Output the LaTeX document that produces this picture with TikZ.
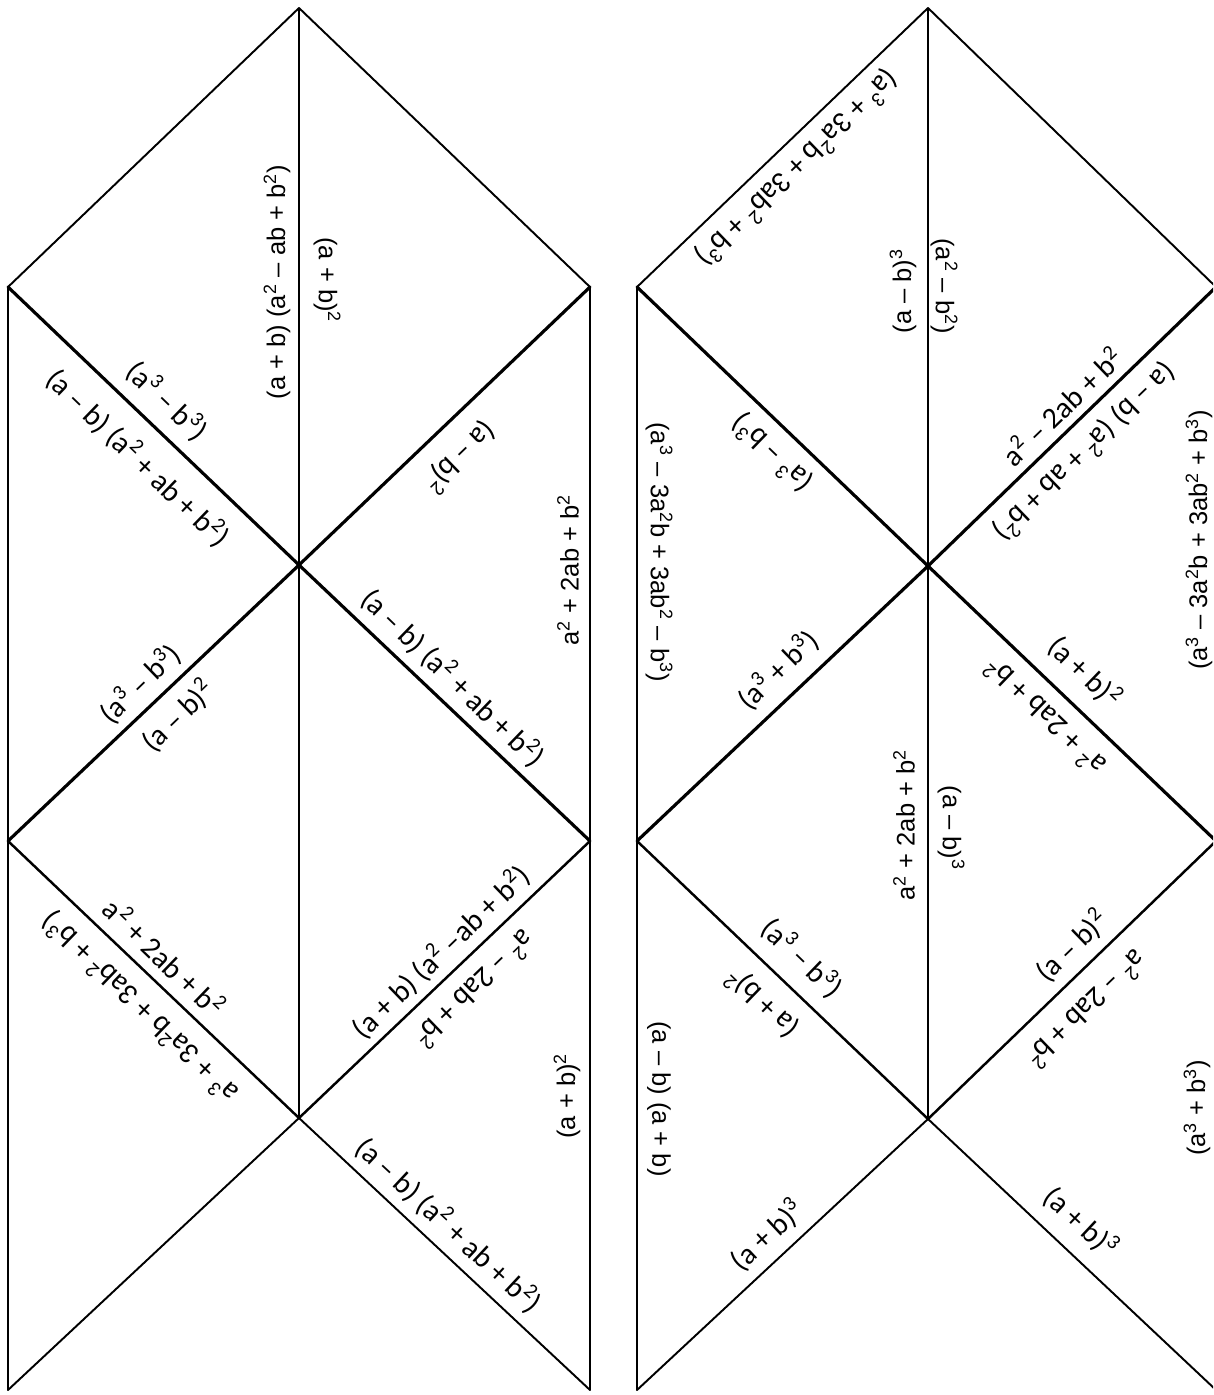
\documentclass[tikz,border=0pt]{standalone}
\usepackage{fontspec}
\setmainfont{Carlito}
\newfontfamily\vertfont{Liberation Sans}
\newcommand{\pw}[1]{\textsuperscript{#1}}
\tikzset{
  seam/.style={line width=1.1pt, black},
  midseam/.style={line width=1.4pt, black},
  boldseam/.style={line width=1.8pt, black},
  lbl/.style={font=\fontsize{17}{20}\selectfont, inner sep=0pt},
  vlbl/.style={font=\vertfont\fontsize{14.5}{17}\selectfont, inner sep=0pt}
}

\begin{document}
\begin{tikzpicture}[x=0.02cm, y=-0.02cm, line join=round, line cap=round]
  \useasboundingbox (0,0) rectangle (1213,1395);
  \clip (0,0) rectangle (1213,1395);

  % Corners of the left strip
  \coordinate (lT)  at (299,8);
  \coordinate (lL1) at (8,287);    \coordinate (lR1) at (590,287);
  \coordinate (lC1) at (299,565);
  \coordinate (lL2) at (8,841);    \coordinate (lR2) at (590,841);
  \coordinate (lC2) at (299,1118);
  \coordinate (lLb) at (8,1390);   \coordinate (lRb) at (590,1390);

  % Corners of the right strip
  \coordinate (rT)  at (928,8);
  \coordinate (rL1) at (637,287);  \coordinate (rR1) at (1216,287);
  \coordinate (rC1) at (928,566);
  \coordinate (rL2) at (637,841);  \coordinate (rR2) at (1216,841);
  \coordinate (rC2) at (928,1119);
  \coordinate (rLb) at (637,1390); \coordinate (rRb) at (1216,1390);

  % Lines left strip
  \draw[seam] (lL1) -- (lT) -- (lR1);
  \draw[seam] (lT) -- (lC2);
  \draw[seam] (lL1) -- (lLb);
  \draw[seam] (lR1) -- (lRb);
  \draw[boldseam] (lL1) -- (lC1) -- (lR2);
  \draw[boldseam] (lR1) -- (lC1) -- (lL2);
  \draw[midseam] (lL2) -- (lC2) -- (lR2);
  \draw[seam] (lLb) -- (lC2) -- (lRb);

  % Lines right strip
  \draw[seam] (rL1) -- (rT) -- (rR1);
  \draw[seam] (rT) -- (rC2);
  \draw[seam] (rL1) -- (rLb);
  \draw[seam] (rR1) -- (rRb);
  \draw[boldseam] (rL1) -- (rC1) -- (rR2);
  \draw[boldseam] (rR1) -- (rC1) -- (rL2);
  \draw[midseam] (rL2) -- (rC2) -- (rR2);
  \draw[seam] (rLb) -- (rC2) -- (rRb);

  % Labels left strip
  \node[vlbl, rotate=90]   (p1)  at (277,282)  {(a + b) (a\pw{2} – ab + b\pw{2})};
  \node[vlbl, rotate=-90]  (p2)  at (327,280)  {(a + b)\pw{2}};
  \node[lbl,  rotate=-44]  (p3)  at (167,401)  {(a\pw{3} – b\pw{3})};
  \node[lbl,  rotate=-44]  (p4)  at (138,458)  {(a – b) (a\pw{2} + ab + b\pw{2})};
  \node[lbl,  rotate=-136] (p5)  at (460,457)  {(a – b)\pw{2}};
  \node[vlbl, rotate=90]   (p6)  at (568,570)  {a\pw{2} + 2ab + b\pw{2}};
  \node[lbl,  rotate=44]   (p7)  at (140,684)  {(a\pw{3} – b\pw{3})};
  \node[lbl,  rotate=44]   (p8)  at (178,716)  {(a – b)\pw{2}};
  \node[lbl,  rotate=-44]  (p9)  at (453,678)  {(a – b) (a\pw{2} + ab + b\pw{2})};
  \node[lbl,  rotate=136]  (p10) at (140,1007) {a\pw{3} + 3a\pw{2}b + 3ab\pw{2} + b\pw{3})};
  \node[lbl,  rotate=-44]  (p11) at (165,957)  {a\pw{2} + 2ab + b\pw{2}};
  \node[lbl,  rotate=44]   (p12) at (441,952)  {(a + b) (a\pw{2} –ab + b\pw{2})};
  \node[lbl,  rotate=-136] (p13) at (475,990)  {a\pw{2} – 2ab + b\pw{2}};
  \node[vlbl, rotate=90]   (p14) at (567,1096) {(a + b)\pw{2}};
  \node[lbl,  rotate=-43]  (p15) at (449,1225) {(a – b) (a\pw{2} + ab + b\pw{2})};

  % Labels right strip
  \node[lbl,  rotate=-136] (q1)  at (797,168)  {(a\pw{3} + 3a\pw{2}b + 3ab\pw{2} + b\pw{3})};
  \node[vlbl, rotate=90]   (q2)  at (903,291)  {(a – b)\pw{3}};
  \node[vlbl, rotate=-90]  (q3)  at (944,286)  {(a\pw{2} – b\pw{2})};
  \node[lbl,  rotate=136]  (q4)  at (772,453)  {(a\pw{3} – b\pw{3})};
  \node[vlbl, rotate=-90]  (q5)  at (659,552)  {(a\pw{3} – 3a\pw{2}b + 3ab\pw{2} – b\pw{3})};
  \node[lbl,  rotate=44]   (q6)  at (1062,406) {a\pw{2} – 2ab + b\pw{2}};
  \node[lbl,  rotate=-136] (q7)  at (1085,452) {(a – b) (a\pw{2} + ab + b\pw{2})};
  \node[vlbl, rotate=90]   (q8)  at (1199,540) {(a\pw{3} – 3a\pw{2}b + 3ab\pw{2} + b\pw{3})};
  \node[lbl,  rotate=44]   (q9)  at (778,670)  {(a\pw{3} + b\pw{3})};
  \node[vlbl, rotate=90]   (q10) at (904,825)  {a\pw{2} + 2ab + b\pw{2}};
  \node[vlbl, rotate=-90]  (q11) at (951,828)  {(a – b)\pw{3}};
  \node[lbl,  rotate=-44]  (q12) at (1085,672) {(a + b)\pw{2}};
  \node[lbl,  rotate=136]  (q13) at (1044,717) {a\pw{2} + 2ab + b\pw{2}};
  \node[lbl,  rotate=-44]  (q14) at (802,958)  {(a\pw{3} – b\pw{3})};
  \node[lbl,  rotate=136]  (q15) at (762,1003) {(a + b)\pw{2}};
  \node[lbl,  rotate=44]   (q16) at (1072,946) {(a – b)\pw{2}};
  \node[lbl,  rotate=-136] (q17) at (1087,1010) {a\pw{2} – 2ab + b\pw{2}};
  \node[vlbl, rotate=90]   (q18) at (1197,1108) {(a\pw{3} + b\pw{3})};
  \node[vlbl, rotate=-90]  (q19) at (659,1099) {(a – b) (a + b)};
  \node[lbl,  rotate=43]   (q20) at (767,1235) {(a + b)\pw{3}};
  \node[lbl,  rotate=-43]  (q21) at (1081,1222) {(a + b)\pw{3}};

\end{tikzpicture}
\end{document}
